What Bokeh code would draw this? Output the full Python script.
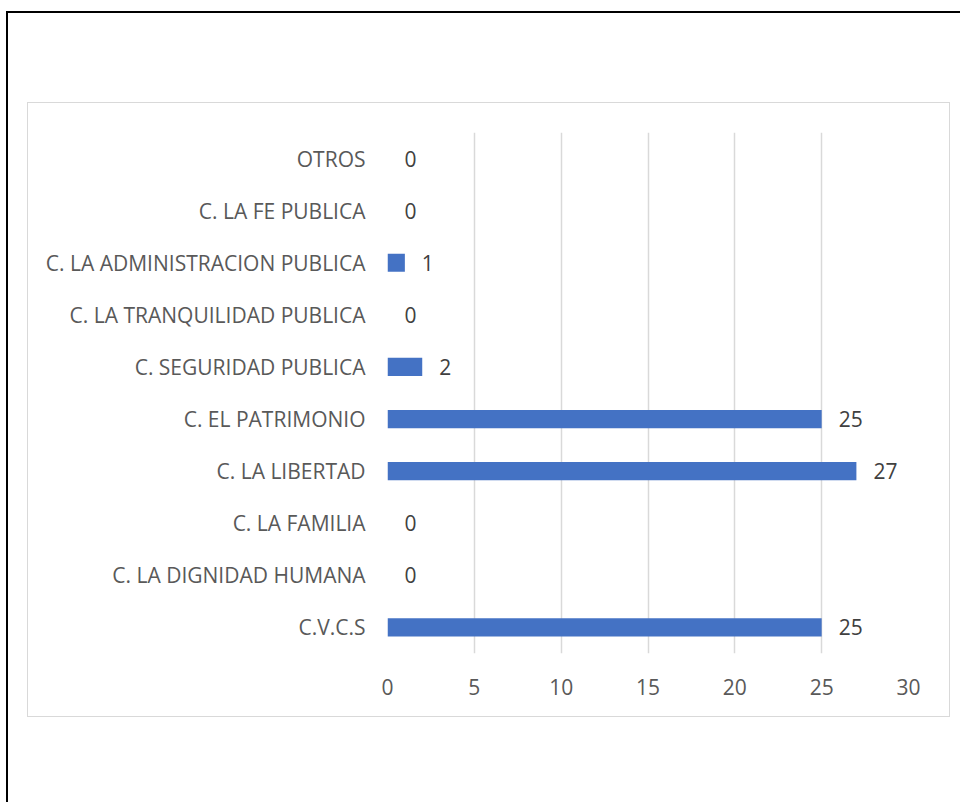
from bokeh.plotting import figure
from bokeh.layouts import column
from bokeh.models import Range1d, FixedTicker, ColumnDataSource, LabelSet
from bokeh.core.properties import value
from bokeh.embed import file_html
from bokeh.resources import INLINE

categories = ["C.V.C.S", "C. LA DIGNIDAD HUMANA", "C. LA FAMILIA", "C. LA LIBERTAD",
              "C. EL PATRIMONIO", "C. SEGURIDAD PUBLICA", "C. LA TRANQUILIDAD PUBLICA",
              "C. LA ADMINISTRACION PUBLICA", "C. LA FE PUBLICA", "OTROS"]
values = [25, 0, 0, 27, 25, 2, 0, 1, 0, 0]
x_ticks = [0, 5, 10, 15, 20, 25, 30]

FONT = "Open Sans"
TEXT = "#595959"

p = figure(width=921, height=613, y_range=categories, x_range=Range1d(0, 30),
           output_backend="svg", toolbar_location=None,
           min_border_left=359, min_border_right=41, min_border_top=29, min_border_bottom=63,
           styles={"outline": "1.5px solid #D9D9D9"})
p.outline_line_color = None
p.background_fill_color = "white"
p.border_fill_color = "white"

src = ColumnDataSource(dict(cat=categories, val=values, lab=[str(v) for v in values]))
p.hbar(y="cat", right="val", left=0, height=0.35, source=src,
       fill_color="#4472C4", line_color=None)

labels = LabelSet(x="val", y="cat", text="lab", source=src, x_offset=17, y_offset=0,
                  text_align="left", text_baseline="middle", text_font=value(FONT),
                  text_font_size="21px", text_color="#404040")
p.add_layout(labels)

p.xaxis.ticker = FixedTicker(ticks=x_ticks)
for ax in (p.xaxis[0], p.yaxis[0]):
    ax.axis_line_color = None
    ax.major_tick_line_color = None
    ax.minor_tick_line_color = None
    ax.major_tick_in = 0
    ax.major_tick_out = 0
    ax.major_label_text_font = FONT
    ax.major_label_text_font_size = "21px"
    ax.major_label_text_color = TEXT
p.yaxis.major_label_standoff = 22
p.xaxis.major_label_standoff = 25

p.xgrid.grid_line_color = "#D9D9D9"
p.xgrid.grid_line_width = 1.5
p.ygrid.grid_line_color = None

layout = column(p, margin=(11, 0, 0, 6),
                styles={"border-left": "2px solid black", "border-top": "2px solid black",
                        "border-right": "none", "border-bottom": "none",
                        "padding-left": "20px", "padding-top": "90px",
                        "padding-right": "11px", "padding-bottom": "86px",
                        "overflow": "visible"})

open("out.html", "w").write(file_html(layout, INLINE))
